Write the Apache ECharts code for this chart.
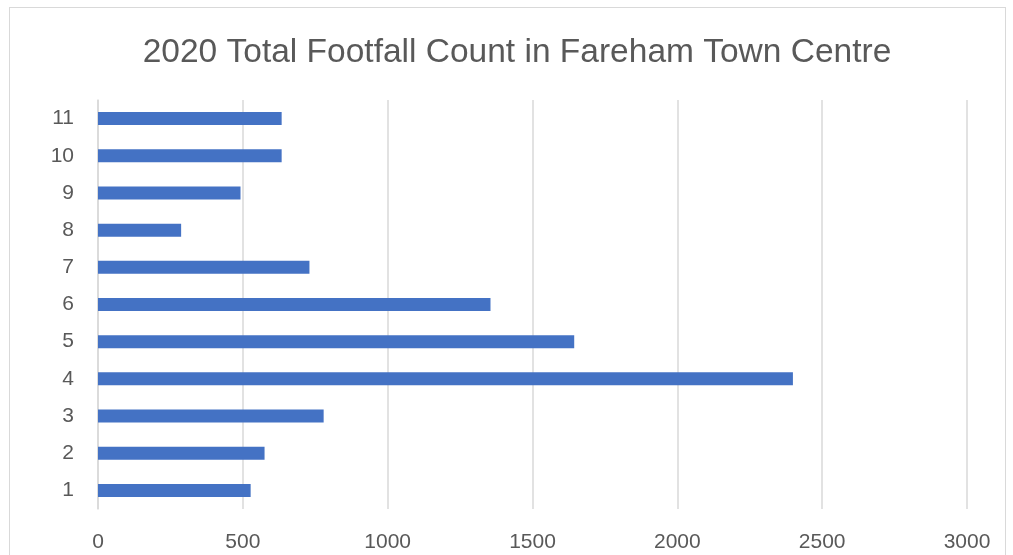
<!DOCTYPE html>
<html>
<head>
<meta charset="utf-8">
<title>2020 Total Footfall Count in Fareham Town Centre</title>
<script src="https://cdn.jsdelivr.net/npm/echarts@6/dist/echarts.min.js"></script>
<style>
  html, body { margin: 0; padding: 0; background: #ffffff; }
  #frame { position: absolute; left: 9px; top: 7px; width: 997px; height: 560px;
           border: 1px solid #d9d9d9; box-sizing: border-box; }
  #chart { position: absolute; left: 0; top: 0; width: 1013px; height: 555px; }
</style>
</head>
<body>
<div id="frame"></div>
<div id="chart"></div>
<script>
// Month numbers shown on the vertical axis
const categories = ['1', '2', '3', '4', '5', '6', '7', '8', '9', '10', '11'];
// Total footfall per month
const footfall = [527, 575, 779, 2399, 1644, 1355, 730, 287, 492, 634, 634];
// Horizontal value axis ticks
const xTicks = [0, 500, 1000, 1500, 2000, 2500, 3000];

const textColor = '#595959';
const gridColor = '#d9d9d9';
const fontFamily = '"Liberation Sans", Arial, sans-serif';

const chart = echarts.init(document.getElementById('chart'), null, { renderer: 'canvas' });
chart.setOption({
  backgroundColor: 'transparent',
  animation: false,
  title: {
    text: '2020 Total Footfall Count in Fareham Town Centre',
    left: 512,
    textAlign: 'center',
    top: 31,
    textStyle: { color: textColor, fontFamily: fontFamily, fontSize: 33.5, fontWeight: 'normal' }
  },
  grid: { left: 98, right: 46, top: 100, bottom: 46, containLabel: false },
  xAxis: {
    type: 'value',
    min: xTicks[0],
    max: xTicks[xTicks.length - 1],
    interval: xTicks[1] - xTicks[0],
    axisLine: { show: false },
    axisTick: { show: false },
    splitLine: { show: true, lineStyle: { color: gridColor, width: 1.5 } },
    axisLabel: {
      color: textColor, fontFamily: fontFamily, fontSize: 21, margin: 23,
      formatter: function (v) { return String(v); }
    }
  },
  yAxis: {
    type: 'category',
    data: categories,
    axisLine: { show: true, lineStyle: { color: gridColor, width: 1.5 } },
    axisTick: { show: false },
    axisLabel: { color: textColor, fontFamily: fontFamily, fontSize: 21, margin: 24 }
  },
  series: [{
    type: 'bar',
    data: footfall,
    barWidth: 13,
    itemStyle: { color: '#4472c4' }
  }]
});
</script>
</body>
</html>
